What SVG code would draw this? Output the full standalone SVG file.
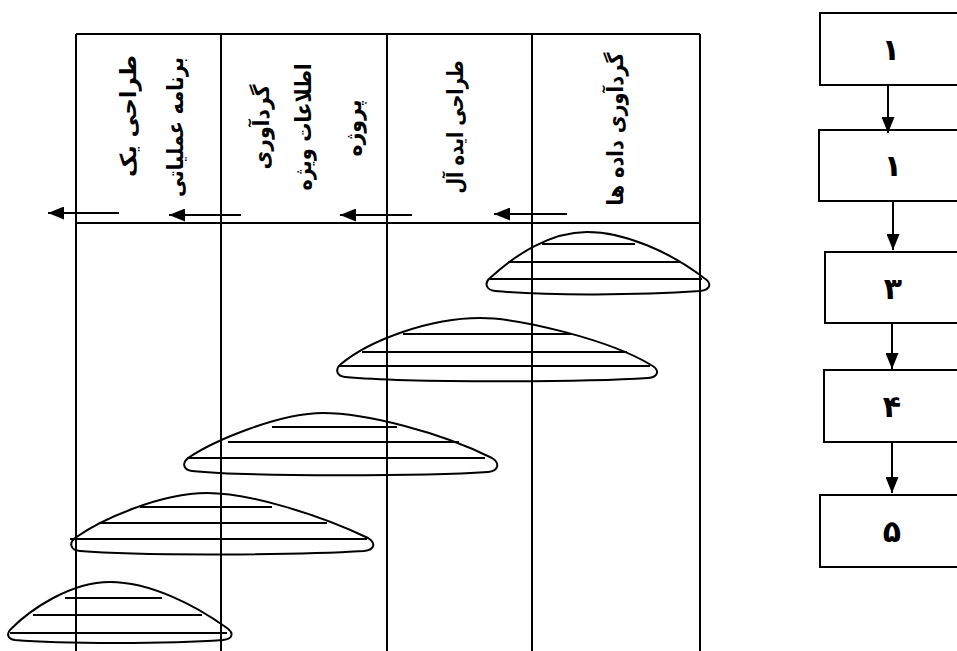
<svg xmlns="http://www.w3.org/2000/svg" width="957" height="651" viewBox="0 0 957 651">
<style>
.grid{stroke:#000;stroke-width:2;fill:none}
.blob{stroke:#000;stroke-width:2;fill:none}
.hatch{stroke:#000;stroke-width:2}
.conn{stroke:#000;stroke-width:2;fill:none}
.box{stroke:#000;stroke-width:2;fill:#fff}
.hdr{font-family:"DejaVu Sans",sans-serif;font-weight:bold;font-size:22px;fill:#000;text-anchor:middle;dominant-baseline:central;direction:rtl}
.num{font-family:"DejaVu Sans",sans-serif;font-weight:bold;font-size:30px;fill:#000;text-anchor:middle;dominant-baseline:central}
</style>
<defs>
<marker id="ah" markerUnits="userSpaceOnUse" markerWidth="16" markerHeight="13" refX="16" refY="6.5" orient="auto">
<path d="M0,0 L16,6.5 L0,13 z" fill="#000"/>
</marker>
</defs>
<rect width="957" height="651" fill="#fff"/>
<g id="table">
<line class="grid" x1="76" y1="34" x2="700" y2="34"/>
<line class="grid" x1="76" y1="223" x2="700" y2="223"/>
<line class="grid" x1="76" y1="34" x2="76" y2="651"/>
<line class="grid" x1="221" y1="34" x2="221" y2="651"/>
<line class="grid" x1="387" y1="34" x2="387" y2="651"/>
<line class="grid" x1="532" y1="34" x2="532" y2="651"/>
<line class="grid" x1="700" y1="34" x2="700" y2="651"/>
</g>
<g id="header-1">
<text class="hdr" transform="translate(128,116) rotate(-90)" textLength="122" lengthAdjust="spacingAndGlyphs">طراحی یک</text>
<text class="hdr" transform="translate(175,127) rotate(-90)" textLength="140" lengthAdjust="spacingAndGlyphs">برنامه عملیاتی</text>
</g>
<g id="header-2">
<text class="hdr" transform="translate(261,127) rotate(-90)" textLength="85" lengthAdjust="spacingAndGlyphs">گردآوری</text>
<text class="hdr" transform="translate(303,127) rotate(-90)" textLength="127" lengthAdjust="spacingAndGlyphs">اطلاعات ویژه</text>
<text class="hdr" transform="translate(353,128) rotate(-90)" textLength="57" lengthAdjust="spacingAndGlyphs">پروژه</text>
</g>
<g id="header-3">
<text class="hdr" transform="translate(455,127) rotate(-90)" textLength="133" lengthAdjust="spacingAndGlyphs">طراحی ایده آل</text>
</g>
<g id="header-4">
<text class="hdr" transform="translate(615,129) rotate(-90)" textLength="153" lengthAdjust="spacingAndGlyphs">گردآوری داده ها</text>
</g>
<g id="phase-1">
<path class="blob" d="M490,278 C515,255 550,232 587,232 C625,232 670,252 704,278 C712,283 711,290 700,291 C640,295 550,296 495,291 C486,290 484,283 490,278 Z"/>
<line class="hatch" x1="542" y1="244" x2="635" y2="244"/>
<line class="hatch" x1="508" y1="262" x2="680" y2="262"/>
<line class="hatch" x1="490" y1="279" x2="702" y2="279"/>
</g>
<g id="phase-2">
<path class="blob" d="M341,364 C370,340 430,318 480,318 C520,318 610,340 651,365 C660,370 659,377 648,378 C590,382 410,383 345,377 C336,376 335,369 341,364 Z"/>
<line class="hatch" x1="403" y1="334" x2="571" y2="334"/>
<line class="hatch" x1="362" y1="352" x2="627" y2="352"/>
<line class="hatch" x1="340" y1="366" x2="650" y2="366"/>
</g>
<g id="phase-3">
<path class="blob" d="M188,458 C215,440 280,413 323,413 C365,413 440,432 492,458 C500,463 499,471 488,472 C430,476 250,477 192,471 C183,470 182,463 188,458 Z"/>
<line class="hatch" x1="272" y1="427" x2="397" y2="427"/>
<line class="hatch" x1="228" y1="442" x2="459" y2="442"/>
<line class="hatch" x1="187" y1="458" x2="485" y2="458"/>
</g>
<g id="phase-4">
<path class="blob" d="M75,538 C100,520 160,493 207,493 C250,493 320,515 368,538 C376,543 375,550 364,551 C300,555 140,556 80,551 C70,550 69,543 75,538 Z"/>
<line class="hatch" x1="140" y1="507" x2="272" y2="507"/>
<line class="hatch" x1="99" y1="523" x2="327" y2="523"/>
<line class="hatch" x1="70" y1="539" x2="367" y2="539"/>
</g>
<g id="phase-5">
<path class="blob" d="M12,628 C30,610 70,582 110,582 C150,582 195,605 227,628 C234,633 233,639 223,640 C170,644 60,644 15,640 C7,639 6,633 12,628 Z"/>
<line class="hatch" x1="65" y1="598" x2="162" y2="598"/>
<line class="hatch" x1="33" y1="615" x2="202" y2="615"/>
<line class="hatch" x1="10" y1="633" x2="227" y2="633"/>
</g>
<g id="box-1"><rect class="box" x="820" y="13" width="140" height="72"/><text class="num" x="891" y="49">۱</text></g>
<g id="box-2"><rect class="box" x="819" y="130" width="141" height="71"/><text class="num" x="893" y="165">۱</text></g>
<g id="box-3"><rect class="box" x="825" y="252" width="135" height="71"/><text class="num" x="893" y="288">۳</text></g>
<g id="box-4"><rect class="box" x="824" y="370" width="136" height="72"/><text class="num" x="892" y="406">۴</text></g>
<g id="box-5"><rect class="box" x="820" y="495" width="140" height="72"/><text class="num" x="892" y="531">۵</text></g>
<g id="connectors">
<line class="conn" x1="119" y1="213" x2="48" y2="213" marker-end="url(#ah)"/>
<line class="conn" x1="241" y1="215" x2="169" y2="215" marker-end="url(#ah)"/>
<line class="conn" x1="412" y1="215" x2="340" y2="215" marker-end="url(#ah)"/>
<line class="conn" x1="567" y1="214" x2="494" y2="214" marker-end="url(#ah)"/>
<line class="conn" x1="888" y1="85" x2="888" y2="133" marker-end="url(#ah)"/>
<line class="conn" x1="893" y1="201" x2="893" y2="250" marker-end="url(#ah)"/>
<line class="conn" x1="892" y1="323" x2="892" y2="369" marker-end="url(#ah)"/>
<line class="conn" x1="892" y1="442" x2="892" y2="493" marker-end="url(#ah)"/>
</g>
</svg>
